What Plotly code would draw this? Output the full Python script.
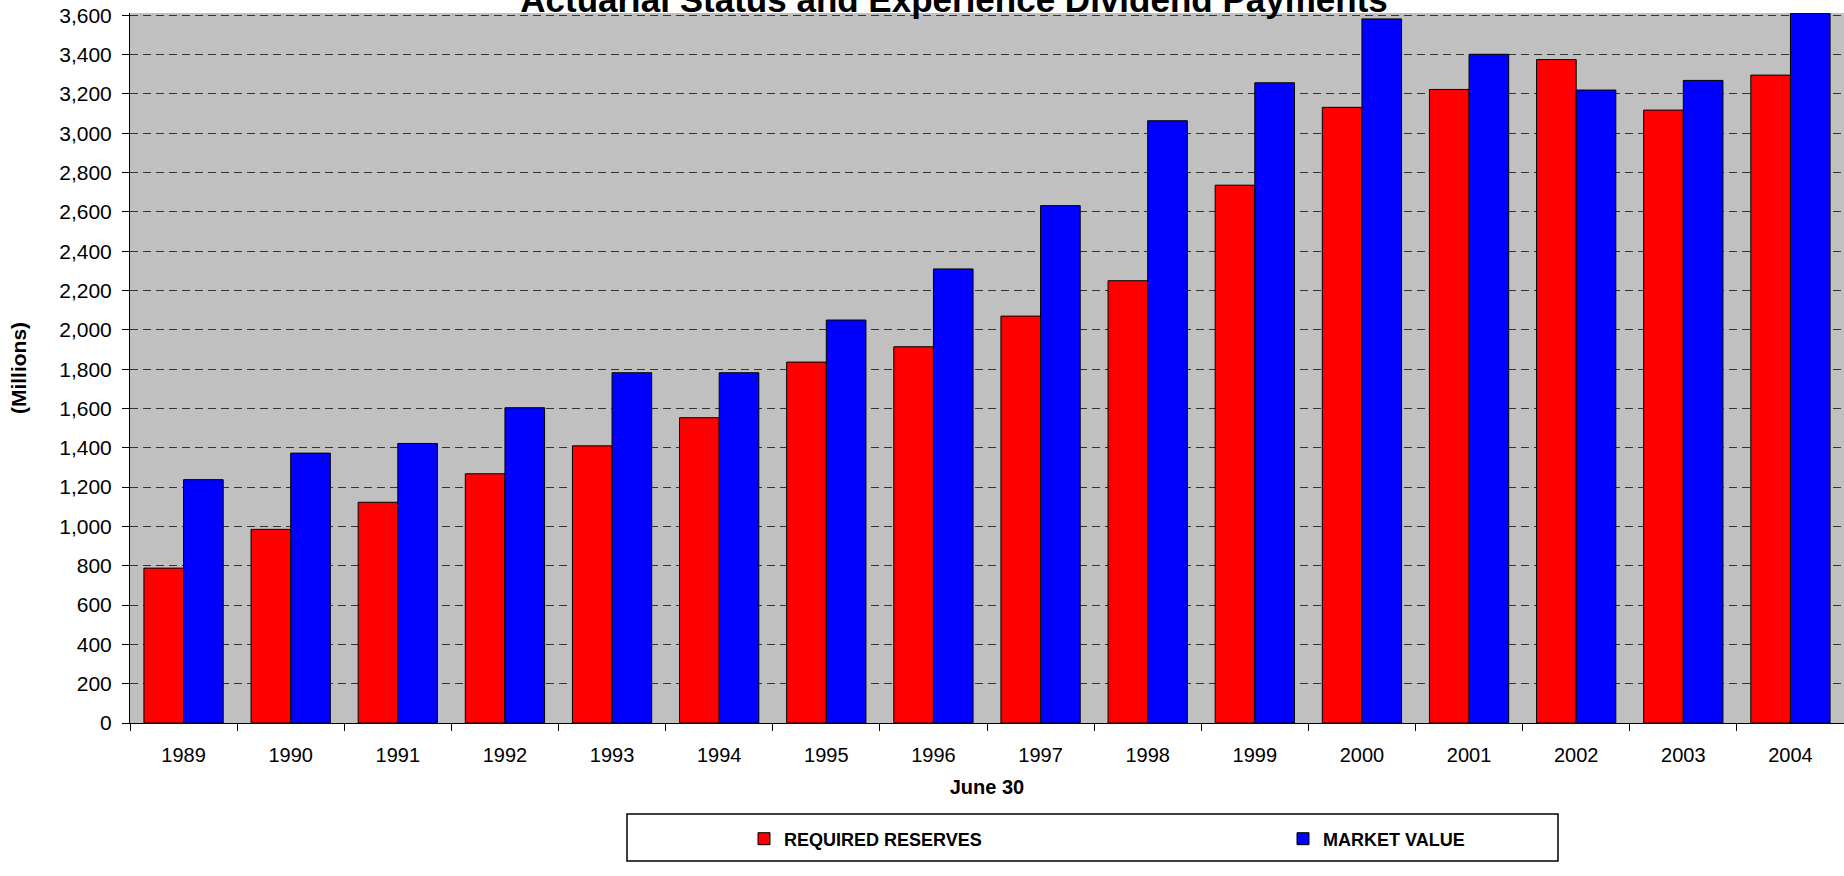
import plotly.graph_objects as go

years = ["1989", "1990", "1991", "1992", "1993", "1994", "1995", "1996",
         "1997", "1998", "1999", "2000", "2001", "2002", "2003", "2004"]
required_reserves = [788, 985, 1123, 1268, 1410, 1553, 1836, 1914,
                     2070, 2250, 2736, 3132, 3223, 3375, 3118, 3296]
market_value = [1238, 1373, 1422, 1604, 1782, 1782, 2050, 2310,
                 2632, 3064, 3257, 3582, 3402, 3220, 3269, 3610]
y_ticks = list(range(0, 3601, 200))

W, H = 1844, 876
L, R, T, B = 130, 0, 13, 153
FONT = "Liberation Sans, Arial, sans-serif"

fig = go.Figure()
fig.add_trace(go.Bar(
    x=years, y=required_reserves, name="REQUIRED RESERVES",
    marker=dict(color="#FF0000", line=dict(color="#000000", width=1)),
))
fig.add_trace(go.Bar(
    x=years, y=market_value, name="MARKET VALUE",
    marker=dict(color="#0000FF", line=dict(color="#000000", width=1)),
))

plot_w = W - L - R
plot_h = H - T - B

def px_x(p):
    return (p - L) / plot_w

def px_y(p):
    return (H - B - p) / plot_h

fig.add_shape(type="rect", xref="paper", yref="paper",
              x0=px_x(627), x1=px_x(1558), y0=px_y(861), y1=px_y(814),
              line=dict(color="#000000", width=1.5), fillcolor="rgba(0,0,0,0)")

fig.update_layout(
    width=W, height=H,
    margin=dict(l=L, r=R, t=T, b=B, autoexpand=False),
    paper_bgcolor="#FFFFFF", plot_bgcolor="#C0C0C0",
    barmode="group", bargap=0.26, bargroupgap=0,
    font=dict(family=FONT, color="#000000", size=20),
    title=dict(text="<b>Actuarial Status and Experience Dividend Payments</b>",
               font=dict(size=35, family=FONT, color="#000000"),
               xref="container", yref="container",
               x=954 / W, xanchor="center", y=1.0, yanchor="middle"),
    showlegend=True,
    legend=dict(orientation="h", xref="container", yref="container",
                x=744 / W, xanchor="left", y=1 - 839 / H, yanchor="middle",
                entrywidth=494, entrywidthmode="pixels",
                font=dict(size=18, family=FONT, color="#000000", weight="bold"),
                bgcolor="rgba(0,0,0,0)", borderwidth=0, traceorder="normal"),
    xaxis=dict(
        type="category", tickson="boundaries", ticks="outside", ticklen=7,
        tickcolor="#000000", showline=True, linecolor="#000000", linewidth=1,
        showgrid=False, tickfont=dict(size=20), ticklabelstandoff=14,
        title=dict(text="<b>June 30</b>", font=dict(size=20), standoff=14),
    ),
    yaxis=dict(
        range=[0, 3612], tickvals=y_ticks, tickformat=",d",
        ticks="outside", ticklen=7, tickcolor="#000000",
        showline=True, linecolor="#000000", linewidth=1,
        showgrid=True, gridcolor="#333333", gridwidth=1, griddash="8px,5px",
        zeroline=False, tickfont=dict(size=21), ticklabelstandoff=6,
        title=dict(text="<b>(Millions)</b>", font=dict(size=21), standoff=26),
    ),
)

fig.write_html("out.html")
